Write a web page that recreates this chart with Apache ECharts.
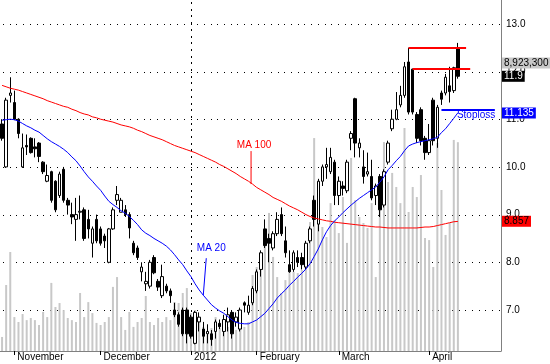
<!DOCTYPE html>
<html><head><meta charset="utf-8">
<script src="https://cdn.jsdelivr.net/npm/echarts@6/dist/echarts.min.js"></script>
<style>html,body{margin:0;padding:0;background:#fff}#c{width:550px;height:364px}</style>
</head><body><div id="c"></div>
<script>
// ---- data ----
const sessionCount = 122; // trading-day slots on the axis (last ones empty)
const monthTickIndex = [3, 24, 46, 62, 82, 104];
const monthTickLabel = ['November', 'December', '2012', 'February', 'March', 'April'];
const yearBoundaryIndex = 46;
const priceTicks = [7, 8, 9, 10, 11, 12, 13];

const open = [10.90,10.00,11.50,11.35,11.00,10.00,10.45,10.60,10.42,10.50,
10.10,9.70,9.90,9.70,9.40,9.95,9.30,9.00,8.90,9.05,
9.10,8.90,8.40,8.90,8.70,8.55,8.00,8.70,9.30,9.05,
9.10,9.00,8.40,8.30,7.80,7.55,7.50,8.10,7.60,7.30,
7.50,7.40,7.00,6.90,7.00,7.00,6.85,6.30,6.75,6.60,
6.50,6.50,6.55,6.72,6.55,6.75,6.95,6.75,6.60,7.15,
6.95,7.15,7.40,7.85,8.70,8.50,8.30,8.60,9.00,8.45,
7.95,7.85,8.10,8.10,7.90,8.45,9.30,8.80,9.70,10.00,
9.90,10.10,9.40,9.60,9.50,10.60,11.43,10.40,10.00,9.85,
9.80,9.40,9.80,9.20,10.10,10.80,11.00,11.30,11.50,12.20,
12.05,11.10,11.20,10.60,10.30,11.40,10.60,11.55,11.55,11.70,
11.60,12.50];
const high = [11.00,11.45,11.88,11.60,11.02,10.70,10.68,10.62,10.60,10.52,
10.12,10.05,9.92,9.72,9.90,10.00,9.35,9.25,9.35,9.40,
9.15,9.10,8.75,9.00,8.75,8.60,8.72,9.15,9.60,9.35,
9.20,9.05,8.45,8.35,8.00,7.80,8.05,8.15,7.65,7.95,
7.55,7.45,7.15,6.95,7.05,7.05,6.90,6.98,6.95,6.75,
6.70,6.58,6.80,6.80,6.90,7.05,7.00,6.95,7.05,7.18,
7.30,7.50,7.85,8.25,8.90,8.60,8.65,9.05,9.15,8.75,
8.25,8.25,8.25,8.20,8.45,8.75,9.40,9.75,10.05,10.40,
10.40,10.15,9.80,9.70,10.15,10.75,11.45,10.60,10.35,10.30,
10.15,9.65,9.85,9.95,10.55,11.20,11.57,11.70,12.20,12.50,
12.06,11.15,11.25,10.65,10.90,11.45,11.30,11.60,11.95,12.10,
12.10,12.60];
const low = [10.55,9.98,11.35,10.98,10.60,9.98,10.25,10.28,10.20,10.10,
9.85,9.68,9.25,9.05,9.35,9.25,9.00,8.80,8.45,8.90,
8.45,8.50,8.10,8.40,8.35,8.30,7.98,8.68,9.20,9.05,
8.95,8.50,8.15,8.05,7.60,7.40,7.45,7.75,7.40,7.25,
7.35,7.15,6.85,6.65,6.45,6.30,6.40,6.28,6.55,6.30,
6.30,6.25,6.40,6.60,6.45,6.55,6.40,6.65,6.55,6.95,
6.90,7.10,7.35,7.70,8.30,8.00,8.25,8.55,8.55,8.10,
7.78,7.80,7.90,7.85,7.85,8.40,8.75,8.65,9.60,9.75,
9.85,9.20,9.20,9.40,9.45,10.35,10.20,10.20,9.65,9.80,
9.30,9.20,8.95,9.15,10.05,10.75,10.98,11.25,11.45,11.10,
11.10,10.50,10.45,10.15,10.25,10.45,10.40,11.30,11.50,11.35,
11.55,11.85];
const close = [10.60,11.40,11.55,11.00,10.70,10.40,10.42,10.30,10.38,10.22,
9.90,9.82,9.30,9.10,9.85,9.30,9.20,8.95,9.00,9.07,
8.50,8.70,8.70,8.45,8.40,8.45,8.70,9.10,9.42,9.30,
9.00,8.72,8.20,8.10,7.90,7.60,8.00,7.78,7.48,7.70,
7.40,7.30,6.90,6.70,6.50,6.50,6.45,6.95,6.85,6.45,
6.55,6.38,6.75,6.65,6.80,6.90,6.50,6.85,7.00,7.10,
7.10,7.45,7.80,8.20,8.35,8.40,8.60,8.90,8.60,8.20,
7.80,8.20,8.00,7.95,8.40,8.70,8.90,9.70,10.00,10.05,
10.20,9.40,9.70,9.55,10.10,10.70,10.50,10.50,9.80,9.90,
9.35,9.60,9.10,9.90,10.50,11.00,11.20,11.50,12.10,11.15,
11.15,10.60,10.55,10.30,10.55,10.55,11.25,11.42,11.88,11.58,
12.08,11.90];
const ma20 = [10.98,10.99,11.00,10.99,10.96,10.91,10.86,10.82,10.77,10.73,
10.66,10.59,10.53,10.48,10.43,10.37,10.30,10.21,10.13,10.02,
9.90,9.79,9.70,9.60,9.51,9.39,9.28,9.21,9.15,9.08,
9.03,8.96,8.88,8.79,8.68,8.61,8.56,8.50,8.45,8.40,
8.34,8.26,8.16,8.05,7.95,7.82,7.70,7.55,7.42,7.31,
7.21,7.11,7.04,6.98,6.93,6.86,6.79,6.74,6.72,6.71,
6.71,6.75,6.79,6.86,6.93,7.03,7.13,7.25,7.34,7.42,
7.52,7.60,7.69,7.77,7.86,7.97,8.12,8.28,8.47,8.64,
8.77,8.87,8.95,9.04,9.12,9.20,9.27,9.34,9.40,9.46,
9.52,9.58,9.68,9.79,9.94,10.03,10.13,10.22,10.34,10.44,
10.48,10.51,10.53,10.55,10.57,10.59,10.62,10.72,10.80,10.91,
11.02,11.135];
const ma100 = [11.71,11.68,11.65,11.63,11.61,11.58,11.55,11.52,11.49,11.46,
11.43,11.39,11.36,11.33,11.30,11.27,11.25,11.21,11.18,11.14,
11.11,11.09,11.05,11.03,11.00,10.98,10.96,10.94,10.91,10.88,
10.86,10.84,10.81,10.77,10.74,10.70,10.66,10.63,10.60,10.57,
10.53,10.49,10.45,10.42,10.39,10.36,10.33,10.30,10.26,10.22,
10.18,10.14,10.10,10.05,10.01,9.96,9.91,9.86,9.80,9.75,
9.70,9.64,9.57,9.52,9.47,9.42,9.36,9.32,9.28,9.23,
9.18,9.14,9.10,9.05,9.00,8.96,8.93,8.91,8.89,8.87,
8.86,8.84,8.83,8.82,8.81,8.80,8.79,8.78,8.77,8.76,
8.75,8.74,8.74,8.73,8.72,8.72,8.72,8.72,8.72,8.72,
8.72,8.72,8.73,8.74,8.74,8.75,8.77,8.79,8.81,8.83,
8.85,8.857];
// volume in millions of shares
const volumeM = [0.60,2.82,4.23,1.45,1.24,1.58,1.32,1.41,1.32,1.11,
1.67,1.45,2.91,1.88,2.05,1.75,1.41,1.32,1.24,2.48,
1.45,2.09,1.62,1.20,1.11,1.24,1.45,2.74,3.16,1.45,
0.90,1.67,1.03,1.24,1.41,2.35,1.24,1.11,1.41,1.24,
1.45,1.32,2.09,2.05,2.48,2.69,1.62,1.75,1.24,1.03,
0.68,0.98,1.45,0.98,1.20,1.03,1.62,0.90,1.32,1.03,
1.24,3.25,3.59,4.19,4.87,5.90,4.02,3.16,2.48,3.03,
3.33,3.38,3.33,3.46,4.32,5.51,9.10,5.47,5.30,4.87,
6.32,5.60,5.04,6.58,4.62,8.25,6.45,5.73,5.47,5.26,
6.32,3.16,6.67,8.93,7.22,7.61,7.01,6.32,9.53,5.94,
7.01,6.58,7.52,4.83,4.74,3.59,8.89,6.88,4.96,5.47,
9.02,8.9233];
const stoplossLevel = 11.2;
// ---- end data ----

const categories = Array.from({length: sessionCount}, (_, i) => 'd' + i);
const last = close.length - 1;
const candleData = open.map((o, i) => [o, close[i], low[i], high[i]]);
const volume = volumeM.map(v => Math.round(v * 1e6));
const FONT = '"Liberation Sans", Arial, sans-serif';
const isMonthTick = (i) => monthTickIndex.indexOf(i) >= 0;
const hidden = {color: 'rgba(255,255,255,0)', width: 1, type: 'solid'};

function boxLabel(text, bg, fg) {
  return {show: true, position: 'end', distance: 1, formatter: text,
    backgroundColor: bg, color: fg, fontSize: 10, fontFamily: FONT,
    lineHeight: 11, padding: [0, 2, 0, 2]};
}
const noLabel = {show: false};

const chart = echarts.init(document.getElementById('c'), null, {renderer: 'canvas'});
chart.setOption({
  animation: false,
  backgroundColor: '#fff',
  grid: {left: 0, right: 49, top: 0, bottom: 13, containLabel: false},
  xAxis: {
    type: 'category', data: categories, boundaryGap: true,
    axisLine: {onZero: false, lineStyle: {color: '#808080', width: 1}},
    axisTick: {show: true, alignWithLabel: true, interval: (i) => isMonthTick(i), length: 4, lineStyle: {color: '#000'}},
    axisLabel: {interval: (i) => isMonthTick(i),
      formatter: (v, i) => { const k = monthTickIndex.indexOf(i); return k >= 0 ? monthTickLabel[k] : ''; },
      align: 'left', margin: 1, padding: [0, 0, 0, 3], fontSize: 10, fontFamily: FONT, color: '#000'},
    splitLine: {show: false}
  },
  yAxis: [
    {type: 'value', position: 'right', min: 6.14, max: 13.5, splitNumber: 7,
      axisLine: {show: true, lineStyle: {color: '#808080', width: 1}},
      axisTick: {show: false},
      splitLine: {show: false},
      axisLabel: {showMinLabel: false, showMaxLabel: false, formatter: (v) => Number(v).toFixed(1), margin: 5,
        fontSize: 10, fontFamily: FONT, color: '#000'}},
    {type: 'value', min: 0, max: 15000000, show: false, splitLine: {show: false}}
  ],
  series: [
    {type: 'bar', name: 'Volume', xAxisIndex: 0, yAxisIndex: 1, data: volume, barWidth: 2,
      itemStyle: {color: '#c8c8c8'}, silent: true, z: 1},
    {type: 'candlestick', name: 'Price', yAxisIndex: 0, data: candleData, barWidth: 3,
      itemStyle: {color: '#fff', color0: '#000', borderColor: '#000', borderColor0: '#000', borderWidth: 1},
      silent: true, z: 3,
      markLine: {silent: true, symbol: ['none', 'none'], emphasis: {disabled: true}, label: noLabel,
        lineStyle: {color: '#ff0000', width: 2, type: 'solid'},
        data: [
          [{coord: [categories[99], high[99]]}, {coord: [categories[113], high[99]]}],
          [{coord: [categories[100], high[100]]}, {coord: [categories[114], high[100]]}]
        ]}},
    {type: 'line', name: 'MA 100', data: ma100, yAxisIndex: 0, symbol: 'none', silent: true, z: 4,
      lineStyle: {color: '#ff0000', width: 1}},
    {type: 'line', name: 'MA 20', data: ma20, yAxisIndex: 0, symbol: 'none', silent: true, z: 4,
      lineStyle: {color: '#0000ff', width: 1},
      markLine: {silent: true, symbol: ['none', 'none'], emphasis: {disabled: true}, label: noLabel,
        lineStyle: {color: '#0000ff', width: 2, type: 'solid'},
        data: [
          [{coord: [categories[107], stoplossLevel]}, {coord: [categories[120], stoplossLevel]}]
        ]}},
    {type: 'line', name: 'labels', data: [], yAxisIndex: 0, symbol: 'none', silent: true, z: 10, zlevel: 1,
      markLine: {silent: true, symbol: ['none', 'none'], emphasis: {disabled: true},
        lineStyle: hidden,
        data: [
          {yAxis: 12.18, label: boxLabel(volume[last].toLocaleString('en-US'), '#c8c8c8', '#000')},
          {yAxis: close[last], label: boxLabel(close[last].toFixed(1), '#000', '#fff')},
          {yAxis: ma20[last], label: boxLabel(ma20[last].toFixed(3), '#0000ff', '#fff')},
          {yAxis: ma100[last], label: boxLabel(ma100[last].toFixed(3), '#ff0000', '#000')}
        ]}}
  ]
});

// dotted grid: one small dot every ~6.7px along each price level and the year boundary
const gx0 = chart.convertToPixel({xAxisIndex: 0}, categories[0]);
const rect = chart.getModel().getComponent('grid').coordinateSystem.getRect();
const dots = [];
priceTicks.forEach(v => {
  const y = Math.round(chart.convertToPixel({yAxisIndex: 0}, v));
  for (let x = rect.x + 3; x < rect.x + rect.width - 1; x += 6.7) {
    dots.push({type: 'rect', z: 0, zlevel: 0, silent: true, shape: {x: Math.round(x), y: y, width: 1, height: 1}, style: {fill: '#000'}});
  }
});
const yx = Math.round(chart.convertToPixel({xAxisIndex: 0}, categories[yearBoundaryIndex]));
for (let y = rect.y + 2; y < rect.y + rect.height; y += 6.7) {
  dots.push({type: 'rect', z: 0, zlevel: 0, silent: true, shape: {x: yx, y: Math.round(y), width: 1, height: 2}, style: {fill: '#000'}});
}

// annotations anchored to data points
const p20 = chart.convertToPixel({xAxisIndex: 0, yAxisIndex: 0}, [categories[49], ma20[49]]);
const p100 = chart.convertToPixel({xAxisIndex: 0, yAxisIndex: 0}, [categories[61], ma100[61]]);
const pEnd = chart.convertToPixel({xAxisIndex: 0, yAxisIndex: 0}, [categories[last], ma20[last]]);
chart.setOption({
  graphic: dots.concat([
    {type: 'line', z: 100, shape: {x1: p20[0], y1: p20[1], x2: p20[0] + 3, y2: p20[1] - 37}, style: {stroke: '#0000ff', lineWidth: 1}},
    {type: 'text', z: 100, style: {text: 'MA 20', x: p20[0] + 8, y: p20[1] - 47, fill: '#0000ff', font: '10px ' + FONT, align: 'center', verticalAlign: 'middle'}},
    {type: 'line', z: 100, shape: {x1: p100[0] - 1.5, y1: p100[1], x2: p100[0] - 1.5, y2: p100[1] - 33}, style: {stroke: '#ff0000', lineWidth: 1}},
    {type: 'text', z: 100, style: {text: 'MA 100', x: p100[0] + 1.5, y: p100[1] - 39, fill: '#ff0000', font: '10px ' + FONT, align: 'center', verticalAlign: 'middle'}},
    {type: 'text', z: 100, style: {text: 'Stoploss', x: pEnd[0] - 1, y: pEnd[1] + 2, fill: '#0000ff', font: '10px ' + FONT, align: 'left', verticalAlign: 'middle'}}
  ])
});
</script>
</body></html>
